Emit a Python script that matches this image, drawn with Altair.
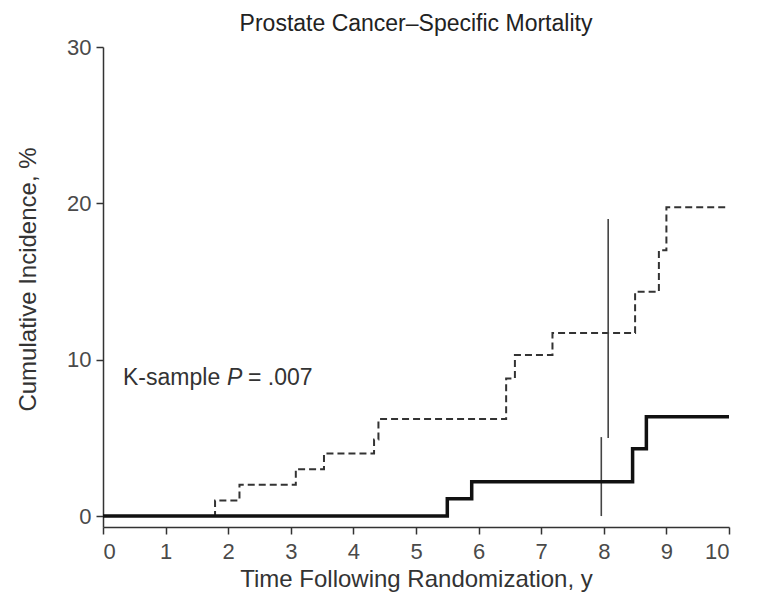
import altair as alt
import pandas as pd

# Cumulative incidence step curves (years, %)
obs_time = [0, 1.79, 2.18, 3.08, 3.53, 4.33, 4.40, 6.44, 6.58, 7.18, 8.50, 8.88, 9.00, 10.0]
obs_inc = [0, 1.0, 2.0, 3.0, 4.0, 4.9, 6.2, 8.8, 10.3, 11.7, 14.35, 17.0, 19.75, 19.75]

rp_time = [0, 5.50, 5.89, 8.46, 8.68, 10.0]
rp_inc = [0, 1.1, 2.2, 4.3, 6.35, 6.35]

# 8-year confidence intervals
ci_time = [7.96, 8.07]
ci_low = [0.0, 5.0]
ci_high = [5.05, 19.0]
ci_group = ["rp", "obs"]

x_ticks = list(range(0, 11))
y_ticks = [0, 10, 20, 30]

FONT = "Liberation Sans"

obs_df = pd.DataFrame({"t": obs_time, "inc": obs_inc})
rp_df = pd.DataFrame({"t": rp_time, "inc": rp_inc})
ci_df = pd.DataFrame({"t": ci_time, "lo": ci_low, "hi": ci_high, "g": ci_group})

x_scale = alt.Scale(domain=[0, 10], nice=False, zero=False)
y_scale = alt.Scale(domain=[-0.7, 30], nice=False, zero=False)

x_axis = alt.Axis(
    values=x_ticks, title="Time Following Randomization, y", format="d",
    titleFontSize=24, titleFont=FONT, titleColor="#333", titleFontWeight="normal",
    titlePadding=5, labelPadding=7,
)
y_axis = alt.Axis(
    values=y_ticks, title="Cumulative Incidence, %", format="d",
    titleFontSize=24, titleFont=FONT, titleColor="#333", titleFontWeight="normal",
    titleAngle=-90, titleX=-68, titleY=232, titleBaseline="alphabetic", titleAlign="center",
    labelPadding=5,
)

base_x = alt.X("t:Q", scale=x_scale, axis=x_axis)
base_y = alt.Y("inc:Q", scale=y_scale, axis=y_axis)

obs_line = alt.Chart(obs_df).mark_line(
    interpolate="step-after", color="#333", strokeWidth=2, strokeDash=[7, 4]
).encode(x=base_x, y=base_y)

ci_rules = alt.Chart(ci_df).mark_rule(color="#444", strokeWidth=1.6).encode(
    x=alt.X("t:Q", scale=x_scale),
    y=alt.Y("lo:Q", scale=y_scale),
    y2="hi:Q",
)

rp_line = alt.Chart(rp_df).mark_line(
    interpolate="step-after", color="#111", strokeWidth=3.5
).encode(x=base_x, y=base_y)

txt_style = dict(align="left", baseline="middle", font=FONT, fontSize=23, color="#333")
label_a = alt.Chart().mark_text(text="K-sample", **txt_style).encode(
    x=alt.datum(0.32, scale=x_scale), y=alt.datum(8.8, scale=y_scale)
)
label_b = alt.Chart().mark_text(text="P", fontStyle="italic", dx=104, **txt_style).encode(
    x=alt.datum(0.32, scale=x_scale), y=alt.datum(8.8, scale=y_scale)
)
label_c = alt.Chart().mark_text(text="= .007", dx=125, **txt_style).encode(
    x=alt.datum(0.32, scale=x_scale), y=alt.datum(8.8, scale=y_scale)
)

chart = alt.layer(obs_line, ci_rules, rp_line, label_a, label_b, label_c).properties(
    width=626,
    height=480,
    autosize=alt.AutoSizeParams(type="none"),
    padding={"left": 103, "top": 47, "right": 30, "bottom": 70},
    title=alt.TitleParams(
        "Prostate Cancer\u2013Specific Mortality",
        font=FONT, fontSize=23, fontWeight="normal", color="#222",
        anchor="middle", offset=0,
    ),
).configure_view(stroke=None).configure_axis(
    grid=False,
    domainColor="#333", domainWidth=1.5,
    tickColor="#333", tickWidth=1.5, tickSize=7,
    labelFont=FONT, labelFontSize=22, labelColor="#4a4a4a",
)

chart.save("out.html", embed_options={"renderer": "svg", "actions": False})
